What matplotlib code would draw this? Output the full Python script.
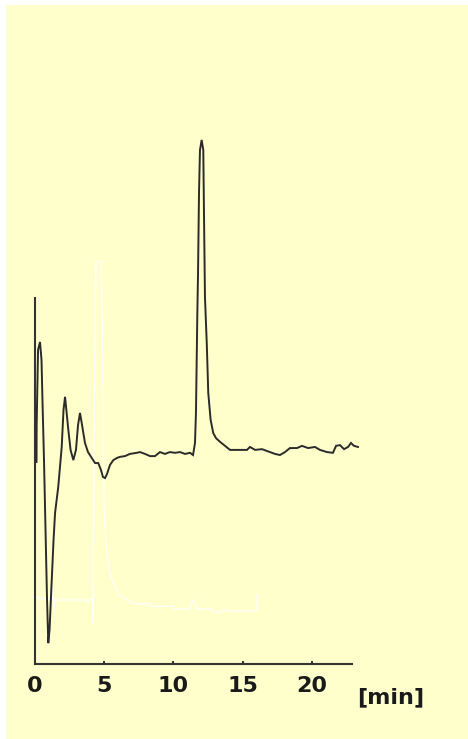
"""Chromatogram: two detector traces on a pale yellow panel."""

import matplotlib

matplotlib.use("Agg")
import matplotlib.pyplot as plt  # noqa: E402

PANEL = "#ffffcc"
INK = "#2b2b2b"
AXIS = "#333333"
TRACE_LIGHT = "#ffffff"

# dark trace (retention time in min, signal in arbitrary units)
dark_t = [0.11, 0.12, 0.22, 0.36, 0.47, 0.54, 0.65, 0.76, 0.87, 0.96, 1.05,
          1.21, 1.34, 1.45, 1.68, 1.93, 2.06, 2.17, 2.28, 2.41, 2.57, 2.77,
          2.96, 3.11, 3.25, 3.40, 3.61, 3.83, 4.10, 4.34, 4.57, 4.77, 4.91,
          5.06, 5.20, 5.42, 5.66, 5.92, 6.14, 6.50, 6.86, 7.35, 7.59, 7.95,
          8.31, 8.67, 9.03, 9.39, 9.75, 10.12, 10.48, 10.84, 11.20, 11.42,
          11.56, 11.63, 11.73, 11.78, 11.85, 11.92, 12.04, 12.16, 12.21,
          12.28, 12.41, 12.52, 12.69, 12.88, 13.08, 13.37, 13.73, 14.09,
          14.81, 15.32, 15.53, 15.90, 16.40, 16.98, 17.34, 17.70, 18.06,
          18.42, 18.93, 19.29, 19.73, 20.23, 20.59, 21.10, 21.53, 21.75,
          22.04, 22.33, 22.62, 22.83, 23.05, 23.34]
dark_s = [55.2, 65.3, 85.8, 88.0, 83.1, 72.1, 55.7, 36.6, 17.5, 5.7, 9.3,
          23.0, 33.9, 41.3, 48.4, 59.3, 69.4, 73.0, 68.9, 63.9, 58.5, 55.7,
          58.5, 65.3, 68.6, 65.3, 60.4, 57.9, 56.3, 54.9, 54.9, 53.0, 51.1,
          50.8, 51.9, 54.4, 55.7, 56.3, 56.6, 56.8, 57.4, 57.7, 57.9, 57.4,
          56.8, 56.8, 57.9, 57.4, 57.9, 57.7, 57.9, 57.4, 57.7, 57.1,
          60.4, 68.6, 95.9, 106.8, 128.7, 140.4, 143.2, 140.4, 123.2,
          100.3, 87.7, 74.0, 66.7, 63.1, 61.7, 60.7, 59.6, 58.5,
          58.5, 58.5, 59.3, 58.5, 58.7, 57.9, 57.4, 57.1, 57.9,
          59.0, 59.0, 59.6, 59.0, 59.3, 58.5, 57.9, 57.7, 59.6,
          59.8, 58.7, 59.3, 60.4, 59.6, 59.3]

# light trace (its solvent peak runs off the top and only shows faintly)
light_t = [-0.14, 0.58, 1.23, 1.30, 1.37, 1.45, 1.59, 3.61, 3.83, 4.05,
           4.15, 4.19, 4.30, 4.40, 4.80, 4.91, 4.99, 5.13, 5.27, 5.42, 5.56,
           5.78, 6.00, 6.29, 6.58, 6.86, 7.59, 8.31, 8.35, 9.97, 10.01,
           11.13, 11.42, 11.71, 12.79, 12.83, 13.51, 13.66, 13.80, 16.04,
           16.07]
light_s = [18.3, 17.8, 17.8, 21.0, 14.8, 18.0, 17.5, 17.5, 16.7, 18.0,
           18.0, 11.2, 80.0, 110.0, 110.0, 72.1, 44.8, 32.5, 28.4, 25.1, 23.0,
           21.0, 19.4, 18.3, 17.8, 16.9, 16.4, 16.4, 15.8, 15.8, 15.0,
           15.0, 17.5, 15.0, 15.0, 14.2, 14.2, 15.0, 14.5, 14.5,
           19.1]

x_ticks = [0, 5, 10, 15, 20]
x_end = 22.9
y_axis_top = 100

W, H = 468, 739
fig = plt.figure(figsize=(W / 100, H / 100), dpi=100, facecolor="white")
# panel covers the image except a thin white band at top and left
ax = fig.add_axes([6 / W, 0, (W - 6) / W, (H - 5) / H])
ax.set_facecolor(PANEL)
ax.patch.set_edgecolor("none")
px_per_min = 13.84
px_per_unit = 3.66
ax.set_xlim(-(35 - 6) / px_per_min, (W - 35) / px_per_min)
ax.set_ylim(-(H - 664) / px_per_unit, (664 - 5) / px_per_unit)

ax.plot(light_t, light_s, color=TRACE_LIGHT, linewidth=1.0, alpha=0.9,
        zorder=2, clip_on=False)
ax.plot(dark_t, dark_s, color=INK, linewidth=1.4, zorder=3,
        solid_joinstyle="miter")

for side in ("top", "right"):
    ax.spines[side].set_visible(False)
ax.spines["left"].set_position(("data", 0))
ax.spines["left"].set_bounds(0, y_axis_top)
ax.spines["bottom"].set_position(("data", 0))
ax.spines["bottom"].set_bounds(0, x_end)
for side in ("left", "bottom"):
    ax.spines[side].set_color(AXIS)
    ax.spines[side].set_linewidth(1.5)

ax.set_yticks([])
ax.set_xticks(x_ticks)
ax.set_xticklabels([str(v) for v in x_ticks])
ax.tick_params(axis="x", direction="in", length=2.5, width=1.5, color=AXIS,
               pad=9, labelsize=16, labelcolor="#1a1a1a")
for lab in ax.get_xticklabels():
    lab.set_fontweight("bold")

fig.text(391 / W, 1 - 697 / H, "[min]", ha="center", va="center",
         fontsize=16, fontweight="bold", color="#1a1a1a")

fig.savefig("out.png", dpi=100, facecolor="white")
